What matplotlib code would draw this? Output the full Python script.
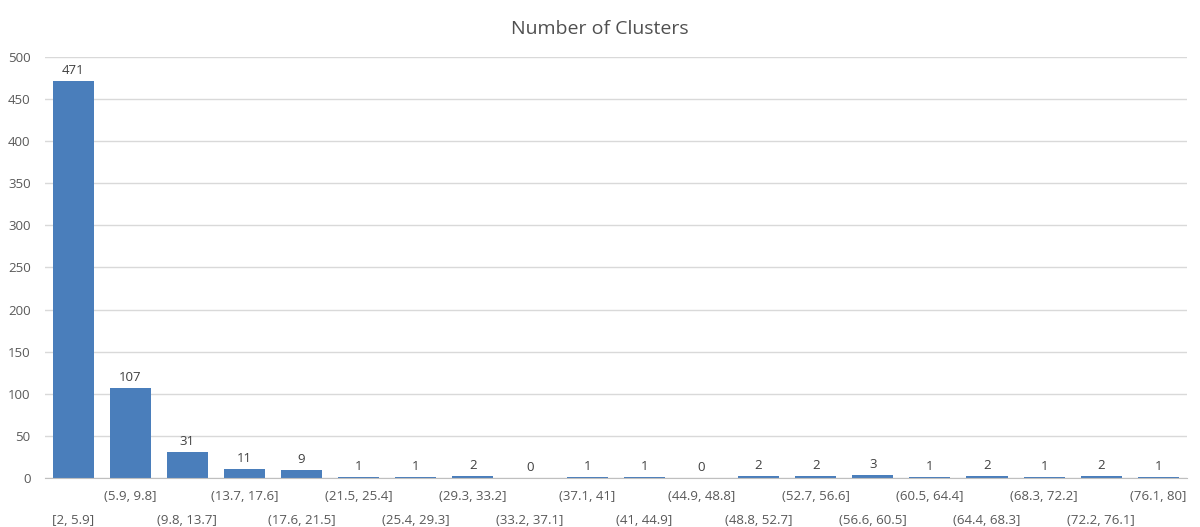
import matplotlib
matplotlib.use("Agg")
import matplotlib.pyplot as plt
import numpy as np

bins = ["[2, 5.9]", "(5.9, 9.8]", "(9.8, 13.7]", "(13.7, 17.6]", "(17.6, 21.5]",
        "(21.5, 25.4]", "(25.4, 29.3]", "(29.3, 33.2]", "(33.2, 37.1]", "(37.1, 41]",
        "(41, 44.9]", "(44.9, 48.8]", "(48.8, 52.7]", "(52.7, 56.6]", "(56.6, 60.5]",
        "(60.5, 64.4]", "(64.4, 68.3]", "(68.3, 72.2]", "(72.2, 76.1]", "(76.1, 80]"]
counts = [471, 107, 31, 11, 9, 1, 1, 2, 0, 1, 1, 0, 2, 2, 3, 1, 2, 1, 2, 1]
y_ticks = list(range(0, 501, 50))

plt.rcParams['font.family'] = ['Open Sans', 'DejaVu Sans']

fig = plt.figure(figsize=(12, 5.27), dpi=100)
ax = fig.add_axes([0.0371, 0.093, 0.952, 0.799])

x = np.arange(len(bins))
bars = ax.bar(x, counts, width=0.72, color="#4a7ebb", zorder=3)

for xi, v in zip(x, counts):
    ax.annotate(str(v), (xi, v), xytext=(0, 3), textcoords="offset points",
                ha="center", va="bottom", fontsize=9.5, color="#404040")

ax.set_xlim(-0.5, len(bins) - 0.5)
ax.set_ylim(0, 500)
ax.set_yticks(y_ticks)
ax.yaxis.grid(True, color="#d9d9d9", linewidth=1, zorder=0)
ax.tick_params(axis="y", length=0, pad=10, labelsize=9.5, labelcolor="#595959")

# staggered category labels: odd bins on the upper row, even bins below
ax.set_xticks(x[1::2])
ax.set_xticklabels(bins[1::2])
ax.set_xticks(x[0::2], minor=True)
ax.set_xticklabels(bins[0::2], minor=True)
ax.tick_params(axis="x", which="major", length=0, pad=9, labelsize=9.5, labelcolor="#595959")
ax.tick_params(axis="x", which="minor", length=0, pad=26, labelsize=9.5, labelcolor="#595959")

for s in ["left", "right", "top"]:
    ax.spines[s].set_visible(False)
ax.spines["bottom"].set_color("#bfbfbf")
ax.spines["bottom"].set_zorder(4)

fig.text(0.5, 0.945, "Number of Clusters", ha="center", va="center",
         fontsize=14, color="#505050")

fig.savefig("out.png", dpi=100, facecolor="white")
